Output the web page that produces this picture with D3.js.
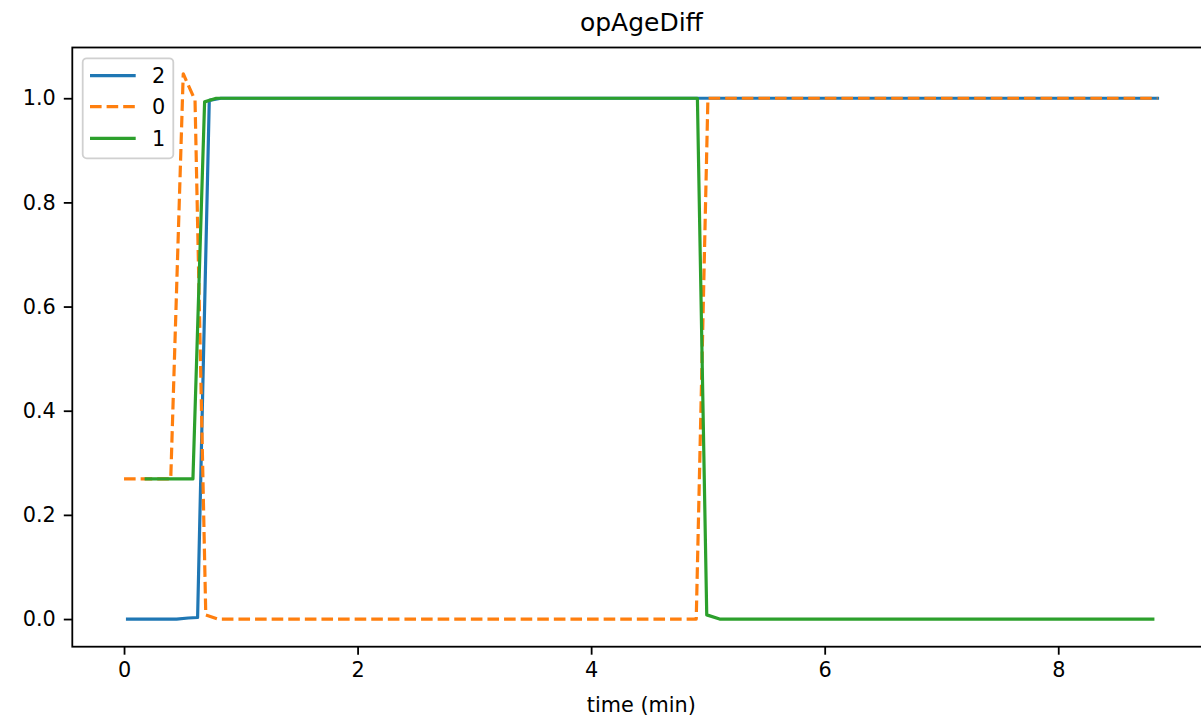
<!DOCTYPE html>
<html><head><meta charset="utf-8">
<script src="https://cdn.jsdelivr.net/npm/d3@7"></script>
<style>body{margin:0;background:#fff}svg{display:block;font-family:"DejaVu Sans",sans-serif}</style>
</head><body>
<svg id="c" width="1201" height="719"></svg>
<script>
// ---- data ----
const title = "opAgeDiff";
const xLabel = "time (min)";
const seriesNames = ["2", "0", "1"];
const xTicks = [0, 2, 4, 6, 8];
const yTicks = [0.0, 0.2, 0.4, 0.6, 0.8, 1.0];
// series "2"
const t2 = [0.03, 0.45, 0.55, 0.63, 0.73, 0.83, 8.85];
const v2 = [0.0, 0.0, 0.002, 0.003, 0.996, 1.0, 1.0];
// series "0"
const t0 = [0.0, 0.40, 0.507, 0.608, 0.70, 0.805, 4.90, 5.00, 8.85];
const v0 = [0.269, 0.269, 1.047, 0.996, 0.008, 0.0, 0.0, 1.0, 1.0];
// series "1"
const t1 = [0.19, 0.59, 0.69, 0.79, 4.91, 4.99, 5.10, 8.81];
const v1 = [0.269, 0.269, 0.993, 1.0, 1.0, 0.008, 0.0, 0.0];

const colors = {"2": "#1f77b4", "0": "#ff7f0e", "1": "#2ca02c"};
const dashed = {"2": false, "0": true, "1": false};

const svg = d3.select("#c");
const L = 72.3, R = 1210.4, T = 47.5, B = 646.7;
const x = d3.scaleLinear().domain([-0.443, 9.303]).range([L, R]);
const y = d3.scaleLinear().domain([-0.0531, 1.0974]).range([B, T]);

const data = {
  "2": t2.map((t, i) => [t, v2[i]]),
  "0": t0.map((t, i) => [t, v0[i]]),
  "1": t1.map((t, i) => [t, v1[i]])
};

const line = d3.line().x(d => x(d[0])).y(d => y(d[1]));
const lw = 3.2;
const FS = 20.8;
const g = svg.append("g");
g.append("clipPath").attr("id", "clip").append("rect")
  .attr("x", L).attr("y", T).attr("width", R - L).attr("height", B - T);
const plot = g.append("g").attr("clip-path", "url(#clip)");
seriesNames.forEach(s => {
  plot.append("path").datum(data[s]).attr("d", line)
    .attr("fill", "none").attr("stroke", colors[s]).attr("stroke-width", lw)
    .attr("stroke-linejoin", "round")
    .attr("stroke-linecap", dashed[s] ? "butt" : "square")
    .attr("stroke-dasharray", dashed[s] ? "11.6,5" : null);
});

// axes
const xAxis = d3.axisBottom(x).tickValues(xTicks).tickFormat(d3.format("d")).tickSize(8).tickPadding(8);
const yAxis = d3.axisLeft(y).tickValues(yTicks).tickFormat(d3.format(".1f")).tickSize(8.5).tickPadding(8);
const gx = svg.append("g").attr("transform", `translate(0,${B})`).call(xAxis);
const gy = svg.append("g").attr("transform", `translate(${L},0)`).call(yAxis);
[gx, gy].forEach(a => {
  a.select(".domain").remove();
  a.selectAll(".tick line").attr("stroke", "#000").attr("stroke-width", 1.8);
  a.selectAll(".tick text").attr("fill", "#000").attr("font-size", FS)
    .attr("font-family", "DejaVu Sans");
});
// frame
svg.append("rect").attr("x", L).attr("y", T).attr("width", R - L).attr("height", B - T)
  .attr("fill", "none").attr("stroke", "#000").attr("stroke-width", 1.8);

// title & labels
svg.append("text").attr("x", (L + R) / 2).attr("y", 31).attr("text-anchor", "middle")
  .attr("font-size", 25).text(title);
svg.append("text").attr("x", (L + R) / 2).attr("y", 712).attr("text-anchor", "middle")
  .attr("font-size", FS).text(xLabel);

// legend
const lg = svg.append("g");
lg.append("rect").attr("x", 82.7).attr("y", 58.3).attr("width", 90.6).attr("height", 100)
  .attr("rx", 4).attr("fill", "#fff").attr("fill-opacity", 0.8)
  .attr("stroke", "#d0d0d0").attr("stroke-width", 1.8);
const legY = [75.7, 106.7, 138.3];
seriesNames.forEach((s, i) => {
  lg.append("line").attr("x1", 90).attr("x2", 135.7).attr("y1", legY[i]).attr("y2", legY[i])
    .attr("stroke", colors[s]).attr("stroke-width", lw)
    .attr("stroke-dasharray", dashed[s] ? "11.6,5" : null);
  lg.append("text").attr("x", 152).attr("y", legY[i]).attr("dy", "0.36em")
    .attr("font-size", FS).text(s);
});
</script>
</body></html>
